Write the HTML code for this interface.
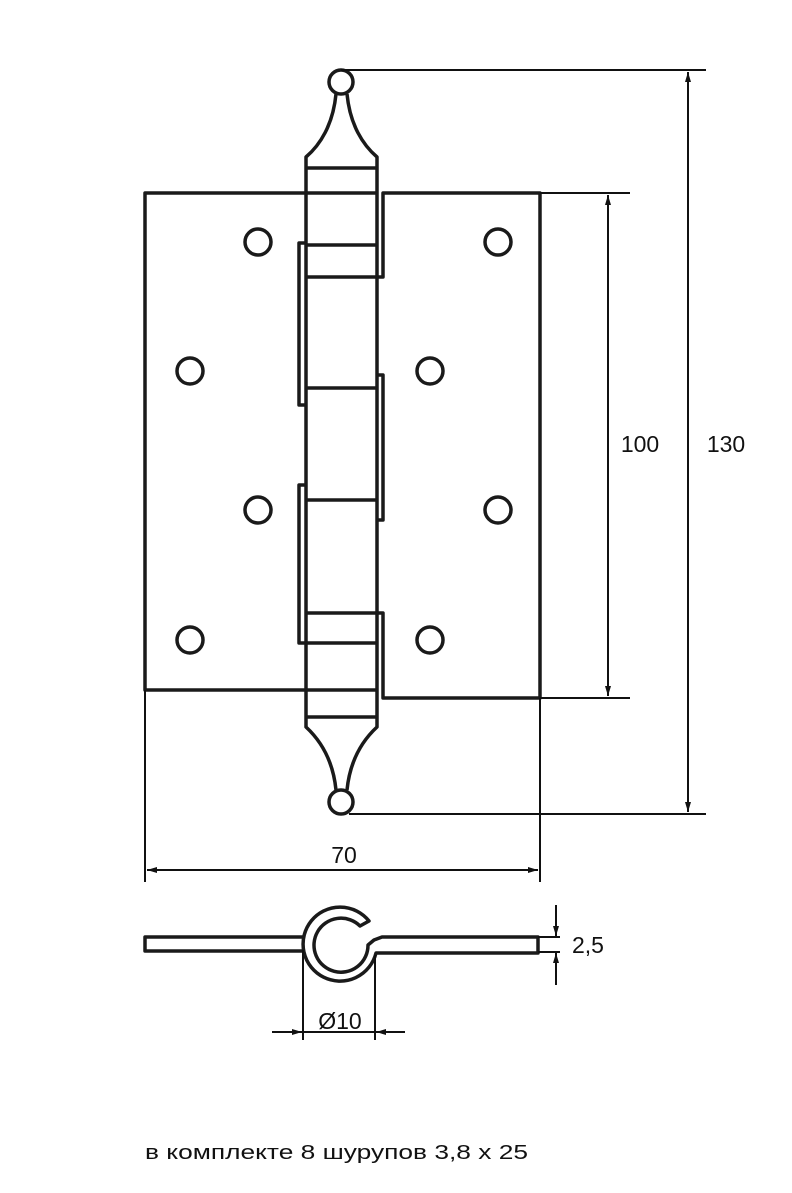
<!DOCTYPE html>
<html><head><meta charset="utf-8"><style>
body{margin:0;background:#fff}
svg{display:block}
text{font-family:"Liberation Sans","DejaVu Sans",sans-serif;fill:#111}
</style></head><body>
<svg width="792" height="1193" viewBox="0 0 792 1193" xmlns="http://www.w3.org/2000/svg">
<defs>
<marker id="a" viewBox="0 0 10 10" refX="10" refY="5" markerWidth="10" markerHeight="10" orient="auto-start-reverse" markerUnits="userSpaceOnUse"><path d="M0,2 L10,5 L0,8 z" fill="#111"/></marker>
</defs>
<g fill="none" stroke="#1a1a1a" stroke-width="3.5" stroke-linejoin="round">
<path d="M305,193 H145 V690 H305"/>
<path d="M305,243 H299 V405 H305"/>
<path d="M305,485 H299 V643 H305"/>
<path d="M377,277 H383 V193 H540 V698 H383 V613 H377"/>
<path d="M377,375 H383 V520 H377"/>
<path d="M336,94 C333,125 320,145 306,157 V727 C320,740 333,760 336,790"/>
<path d="M347,94 C350,125 363,145 377,157 V727 C363,740 350,760 347,790"/>
<circle cx="341" cy="82" r="12"/>
<circle cx="341" cy="802" r="12"/>
<path d="M306,168 H377 M306,193 H377 M306,245 H377 M306,277 H377 M306,388 H377 M306,500 H377 M306,613 H377 M306,643 H377 M306,690 H377 M306,717 H377"/>
<circle cx="258" cy="242" r="13"/><circle cx="190" cy="371" r="13"/>
<circle cx="258" cy="510" r="13"/><circle cx="190" cy="640" r="13"/>
<circle cx="498" cy="242" r="13"/><circle cx="430" cy="371" r="13"/>
<circle cx="498" cy="510" r="13"/><circle cx="430" cy="640" r="13"/>
<path d="M304,937 H145 V951 H304"/>
<path d="M369,921 A37,37 0 1 0 376,953 H538 V937 H382 L374,940 L368,945 A27,27 0 1 1 360,926 Z"/>
</g>
<g stroke="#111" stroke-width="2" fill="none">
<line x1="341" y1="70" x2="706" y2="70"/>
<line x1="349" y1="814" x2="706" y2="814"/>
<line x1="688" y1="72" x2="688" y2="812" marker-start="url(#a)" marker-end="url(#a)"/>
<line x1="540" y1="193" x2="630" y2="193"/>
<line x1="540" y1="698" x2="630" y2="698"/>
<line x1="608" y1="195" x2="608" y2="696" marker-start="url(#a)" marker-end="url(#a)"/>
<line x1="145" y1="690" x2="145" y2="882"/>
<line x1="540" y1="698" x2="540" y2="882"/>
<line x1="147" y1="870" x2="538" y2="870" marker-start="url(#a)" marker-end="url(#a)"/>
<line x1="538" y1="937" x2="560" y2="937"/>
<line x1="538" y1="952" x2="560" y2="952"/>
<line x1="556" y1="905" x2="556" y2="936" marker-end="url(#a)"/>
<line x1="556" y1="985" x2="556" y2="953" marker-end="url(#a)"/>
<line x1="303" y1="950" x2="303" y2="1040"/>
<line x1="375" y1="955" x2="375" y2="1040"/>
<line x1="272" y1="1032" x2="302" y2="1032" marker-end="url(#a)"/>
<line x1="405" y1="1032" x2="376" y2="1032" marker-end="url(#a)"/>
<line x1="303" y1="1032" x2="375" y2="1032"/>
</g>
<text x="726" y="452" font-size="23" text-anchor="middle">130</text>
<text x="640" y="452" font-size="23" text-anchor="middle">100</text>
<text x="344" y="863" font-size="23" text-anchor="middle">70</text>
<text x="572" y="953" font-size="23">2,5</text>
<text x="340" y="1029" font-size="23" text-anchor="middle">Ø10</text>
<text x="145" y="1159" font-size="20" textLength="383" lengthAdjust="spacingAndGlyphs">в комплекте 8 шурупов 3,8 х 25</text>
</svg>
</body></html>
